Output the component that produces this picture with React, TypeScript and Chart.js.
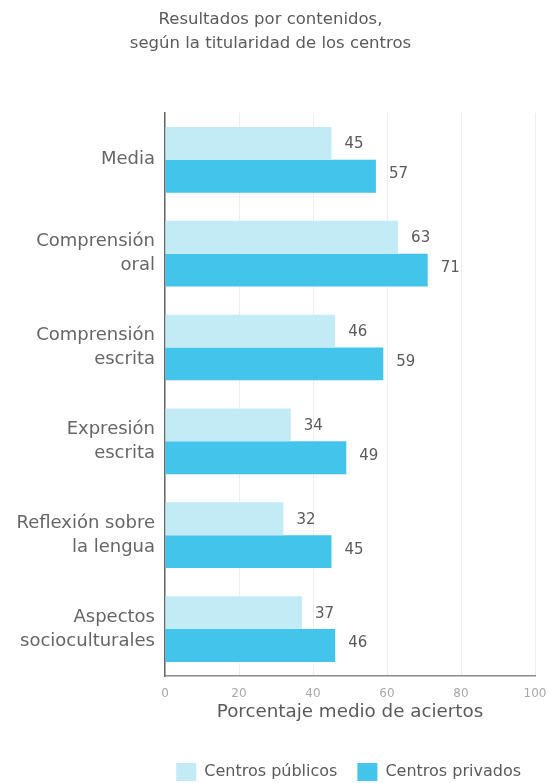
import React, { useEffect, useRef } from "react";
import { Chart, registerables } from "chart.js";

Chart.register(...registerables);

const categories: string[][] = [
  ["Media"],
  ["Comprensión", "oral"],
  ["Comprensión", "escrita"],
  ["Expresión", "escrita"],
  ["Reflexión sobre", "la lengua"],
  ["Aspectos", "socioculturales"],
];
const publicos = [45, 63, 46, 34, 32, 37];
const privados = [57, 71, 59, 49, 45, 46];
const seriesNames = ["Centros públicos", "Centros privados"];
const titleLines = ["Resultados por contenidos,", "según la titularidad de los centros"];
const xAxisTitle = "Porcentaje medio de aciertos";

const FONT = "'DejaVu Sans', sans-serif";

const valueLabels = {
  id: "valueLabels",
  afterDatasetsDraw(chart: any) {
    const ctx = chart.ctx;
    ctx.save();
    ctx.font = `15px ${FONT}`;
    ctx.fillStyle = "#5a5a5a";
    ctx.textAlign = "left";
    ctx.textBaseline = "middle";
    chart.data.datasets.forEach((ds: any, di: number) => {
      const meta = chart.getDatasetMeta(di);
      meta.data.forEach((bar: any, i: number) => {
        ctx.fillText(String(ds.data[i]), bar.x + 13, bar.y + (di === 1 ? -2 : 1));
      });
    });
    ctx.restore();
  },
};

export default function App() {
  const ref = useRef<HTMLCanvasElement>(null);
  useEffect(() => {
    const chart = new Chart(ref.current!, {
      type: "bar",
      data: {
        labels: categories,
        datasets: [
          { label: seriesNames[0], data: publicos, backgroundColor: "#c3ebf5" },
          { label: seriesNames[1], data: privados, backgroundColor: "#43c4ea" },
        ],
      },
      plugins: [valueLabels],
      options: {
        indexAxis: "y",
        animation: false,
        responsive: false,
        maintainAspectRatio: false,
        layout: { padding: { left: 0, right: 12, top: 0, bottom: 0 } },
        datasets: { bar: { categoryPercentage: 0.7, barPercentage: 1.0 } },
        plugins: {
          title: {
            display: true,
            text: titleLines,
            color: "#5a5a5a",
            font: { family: FONT, size: 16.5, weight: "normal", lineHeight: 1.45 },
            padding: { top: 8, bottom: 57 },
          },
          legend: {
            position: "bottom",
            align: "end",
            labels: {
              color: "#5a5a5a",
              font: { family: FONT, size: 16 },
              boxWidth: 20,
              boxHeight: 18,
              padding: 20,
            },
          },
          tooltip: { enabled: false },
        },
        scales: {
          x: {
            min: 0,
            max: 100,
            ticks: { stepSize: 20, color: "#a8a8a8", font: { family: FONT, size: 12 }, padding: 11 },
            grid: { color: "#eeeeee", drawTicks: false },
            border: { color: "#8a8a8a", width: 1.5 },
            title: {
              display: true,
              text: xAxisTitle,
              color: "#5a5a5a",
              font: { family: FONT, size: 18.3 },
              padding: { top: 0, bottom: 20 },
            },
            afterFit: (s: any) => {
              s.height = 67;
              s.paddingLeft = 0;
              s.paddingRight = 0;
            },
          },
          y: {
            ticks: { color: "#666", font: { family: FONT, size: 18, lineHeight: 1.33 }, padding: 10 },
            grid: { display: false, drawTicks: false },
            border: { color: "#666", width: 1.5 },
            afterFit: (s: any) => {
              s.width = 165;
            },
          },
          yRight: {
            type: "category",
            axis: "y",
            position: "right",
            ticks: { display: false },
            grid: { display: false, drawTicks: false },
            border: { display: false },
            afterFit: (s: any) => {
              s.width = 6;
            },
          },
        },
      },
    } as any);
    return () => chart.destroy();
  }, []);
  return (
    <div style={{ position: "fixed", left: 0, top: 0, width: 553, height: 791, background: "#fff" }}>
      <canvas ref={ref} width={553} height={791} style={{ width: 553, height: 791 }} />
    </div>
  );
}
